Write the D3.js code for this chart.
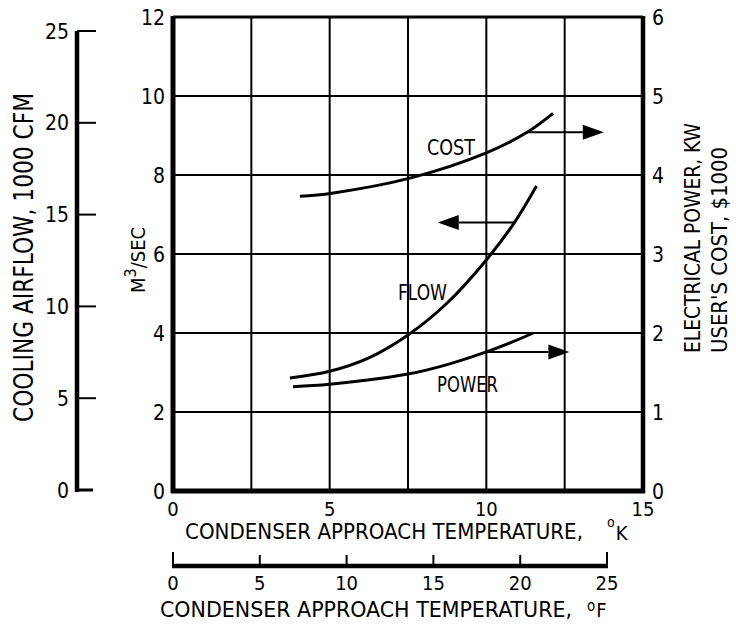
<!DOCTYPE html>
<html>
<head>
<meta charset="utf-8">
<script src="https://cdn.jsdelivr.net/npm/d3@7"></script>
<style>
  body { margin: 0; background: #fff; }
  text { font-family: "DejaVu Sans Condensed", "Liberation Sans Narrow", "DejaVu Sans", sans-serif; fill: #000; }
</style>
</head>
<body>
<script>
// ---------- data ----------
var flowK  = [3.73, 5.0, 6.25, 7.5, 8.75, 10.0, 10.9, 11.6];
var flowM3 = [2.86, 3.03, 3.37, 3.95, 4.76, 5.85, 6.8, 7.72];

var powerK  = [3.83, 5.0, 7.5, 8.75, 10.0, 10.85, 11.5];
var powerKW = [1.32, 1.35, 1.48, 1.6, 1.76, 1.89, 2.0];

var costK     = [4.05, 5.07, 7.56, 10.0, 11.3, 12.13];
var costK1000 = [3.73, 3.77, 3.96, 4.28, 4.54, 4.78];

// arrows: start on curve, point to the axis used
var arrowFrom  = [11.3, 10.9, 10.0];
var arrowTo    = [13.75, 8.45, 12.65];
var arrowVal   = [4.54, 6.8, 1.76];
var arrowAxis  = ["right", "left", "right"];

var kTicks     = [0, 5, 10, 15];
var kGrid      = [2.5, 5, 7.5, 10, 12.5];
var m3Ticks    = [0, 2, 4, 6, 8, 10, 12];
var rightTicks = [0, 1, 2, 3, 4, 5, 6];
var cfmTicks   = [0, 5, 10, 15, 20, 25];
var fTicks     = [0, 5, 10, 15, 20, 25];

var width = 736, height = 626;

var svg = d3.select("body").append("svg")
    .attr("width", width)
    .attr("height", height);

svg.append("rect").attr("width", width).attr("height", height).attr("fill", "#fff");

// scales
var x = d3.scaleLinear().domain([0, 15]).range([173, 643]);
var yL = d3.scaleLinear().domain([0, 12]).range([491, 17]);
var yR = d3.scaleLinear().domain([0, 6]).range([491, 17]);
var yCfm = d3.scaleLinear().domain([0, 25]).range([490, 31]);
var xF = d3.scaleLinear().domain([0, 25]).range([173, 607]);

//*********** grid *******************
svg.append("g").selectAll("line").data(kGrid).enter().append("line")
    .attr("x1", d => x(d)).attr("x2", d => x(d))
    .attr("y1", yL(12)).attr("y2", yL(0))
    .attr("stroke", "#000").attr("stroke-width", 2);

svg.append("g").selectAll("line").data(m3Ticks.slice(1, -1)).enter().append("line")
    .attr("x1", x(0)).attr("x2", x(15))
    .attr("y1", d => yL(d)).attr("y2", d => yL(d))
    .attr("stroke", "#000").attr("stroke-width", 2);

// frame
svg.append("line").attr("x1", x(0)).attr("x2", x(15)).attr("y1", yL(12)).attr("y2", yL(12))
    .attr("stroke", "#000").attr("stroke-width", 3);
svg.append("line").attr("x1", x(0)).attr("x2", x(0)).attr("y1", yL(12) - 1).attr("y2", yL(0) + 2)
    .attr("stroke", "#000").attr("stroke-width", 5);
svg.append("line").attr("x1", x(15)).attr("x2", x(15)).attr("y1", yL(12) - 1).attr("y2", yL(0) + 2)
    .attr("stroke", "#000").attr("stroke-width", 4.5);
svg.append("line").attr("x1", x(0) - 2).attr("x2", x(15) + 2).attr("y1", yL(0)).attr("y2", yL(0))
    .attr("stroke", "#000").attr("stroke-width", 5);

//*********** axis labels *******************
var numFont = 20;

// left m3/sec
svg.append("g").selectAll("text").data(m3Ticks).enter().append("text")
    .attr("x", 165).attr("y", d => yL(d))
    .attr("dy", "0.36em")
    .attr("text-anchor", "end")
    .style("font-size", "21px")
    .text(d => d);

// right kw / $1000
svg.append("g").selectAll("text").data(rightTicks).enter().append("text")
    .attr("x", 652).attr("y", d => yR(d))
    .attr("dy", "0.36em")
    .attr("text-anchor", "start")
    .style("font-size", "21px")
    .text(d => d);

// bottom K
svg.append("g").selectAll("text").data(kTicks).enter().append("text")
    .attr("x", d => x(d)).attr("y", 516)
    .attr("text-anchor", "middle")
    .style("font-size", numFont + "px")
    .text(d => d);

// airflow axis (1000 CFM)
var cfmAxis = svg.append("g");
cfmAxis.append("line")
    .attr("x1", 77).attr("x2", 77).attr("y1", yCfm(25)).attr("y2", yCfm(0) + 2)
    .attr("stroke", "#000").attr("stroke-width", 4.5);
cfmAxis.selectAll(".tk").data(cfmTicks).enter().append("line")
    .attr("x1", 77).attr("x2", d => d == 0 ? 93 : 96)
    .attr("y1", d => yCfm(d)).attr("y2", d => yCfm(d))
    .attr("stroke", "#000").attr("stroke-width", d => d == 0 ? 3 : 2);
cfmAxis.selectAll("text").data(cfmTicks).enter().append("text")
    .attr("x", 69).attr("y", d => yCfm(d))
    .attr("dy", "0.36em")
    .attr("text-anchor", "end")
    .style("font-size", "21px")
    .text(d => d);

// fahrenheit axis
var fAxis = svg.append("g");
fAxis.append("line")
    .attr("x1", xF(0) - 1).attr("x2", xF(25) + 1).attr("y1", 566).attr("y2", 566)
    .attr("stroke", "#000").attr("stroke-width", 4.5);
fAxis.selectAll(".tk").data(fTicks).enter().append("line")
    .attr("x1", d => xF(d)).attr("x2", d => xF(d))
    .attr("y1", 566).attr("y2", d => (d == 0 || d == 25) ? 552 : 555)
    .attr("stroke", "#000").attr("stroke-width", 2);
fAxis.selectAll("text").data(fTicks).enter().append("text")
    .attr("x", d => xF(d)).attr("y", 590)
    .attr("text-anchor", "middle")
    .style("font-size", numFont + "px")
    .text(d => d);

//*********** titles *******************
svg.append("text")
    .attr("transform", "translate(33,422) rotate(-90)")
    .attr("textLength", 329).attr("lengthAdjust", "spacingAndGlyphs")
    .style("font-size", "26px")
    .text("COOLING AIRFLOW, 1000 CFM");

var m3 = svg.append("text")
    .attr("transform", "translate(145,293) rotate(-90)")
    .style("font-size", "20px");
m3.append("tspan").text("M");
m3.append("tspan").attr("dy", -9).style("font-size", "16px").text("3");
m3.append("tspan").attr("dy", 9).text("/SEC");

svg.append("text")
    .attr("transform", "translate(700,353) rotate(-90)")
    .attr("textLength", 230).attr("lengthAdjust", "spacingAndGlyphs")
    .style("font-size", "21px")
    .text("ELECTRICAL POWER, KW");
svg.append("text")
    .attr("transform", "translate(727,353) rotate(-90)")
    .attr("textLength", 206).attr("lengthAdjust", "spacingAndGlyphs")
    .style("font-size", "21px")
    .text("USER'S COST, $1000");

svg.append("text")
    .attr("x", 185).attr("y", 539)
    .attr("textLength", 398).attr("lengthAdjust", "spacingAndGlyphs")
    .style("font-size", "22px")
    .text("CONDENSER APPROACH TEMPERATURE,");
var degK = svg.append("text").attr("x", 607).attr("y", 527);
degK.append("tspan").style("font-size", "14px").text("o");
degK.append("tspan").attr("dx", 1).attr("dy", 13).style("font-size", "20px").text("K");

svg.append("text")
    .attr("x", 160).attr("y", 617)
    .attr("textLength", 412).attr("lengthAdjust", "spacingAndGlyphs")
    .style("font-size", "22px")
    .text("CONDENSER APPROACH TEMPERATURE,");
var degF = svg.append("text").attr("x", 587).attr("y", 611);
degF.append("tspan").style("font-size", "15px").text("o");
degF.append("tspan").attr("dx", 1).attr("dy", 6).style("font-size", "20px").text("F");

//*********** curves *******************
var line = d3.line().curve(d3.curveCatmullRom.alpha(0.5));

function drawCurve(ks, vals, scale) {
    svg.append("path")
        .attr("d", line(ks.map((k, i) => [x(k), scale(vals[i])])))
        .attr("fill", "none")
        .attr("stroke", "#000")
        .attr("stroke-width", 3);
}
drawCurve(flowK, flowM3, yL);
drawCurve(powerK, powerKW, yR);
drawCurve(costK, costK1000, yR);

// arrows
arrowFrom.forEach(function(k0, i) {
    var sc = arrowAxis[i] == "left" ? yL : yR;
    var y = sc(arrowVal[i]);
    var x0 = x(k0), x1 = x(arrowTo[i]);
    var dir = x1 > x0 ? 1 : -1;
    var headL = 21, headH = 7.5;
    svg.append("line")
        .attr("x1", x0).attr("x2", x1 - dir * headL)
        .attr("y1", y).attr("y2", y)
        .attr("stroke", "#000").attr("stroke-width", 2);
    svg.append("path")
        .attr("d", "M" + x1 + "," + y + "L" + (x1 - dir * headL) + "," + (y - headH) +
                   "L" + (x1 - dir * headL) + "," + (y + headH) + "Z")
        .attr("fill", "#000");
});

// curve labels
svg.append("text").attr("x", 427).attr("y", 155)
    .attr("textLength", 48).attr("lengthAdjust", "spacingAndGlyphs")
    .style("font-size", "21px").text("COST");
svg.append("text").attr("x", 398).attr("y", 300)
    .attr("textLength", 49).attr("lengthAdjust", "spacingAndGlyphs")
    .style("font-size", "21px").text("FLOW");
svg.append("text").attr("x", 437).attr("y", 392)
    .attr("textLength", 61).attr("lengthAdjust", "spacingAndGlyphs")
    .style("font-size", "21px").text("POWER");
</script>
</body>
</html>
